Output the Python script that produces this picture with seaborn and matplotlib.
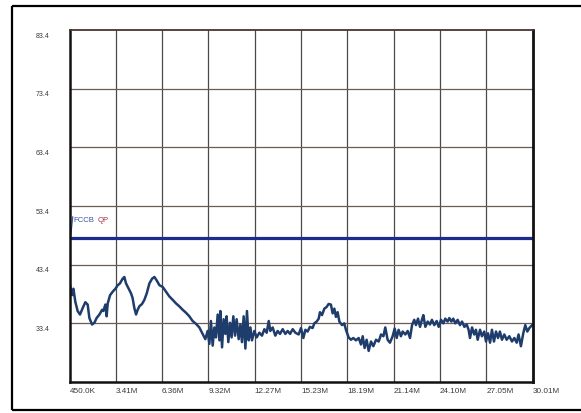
import numpy as np
import pandas as pd
import matplotlib
matplotlib.use("Agg")
import matplotlib.pyplot as plt
import matplotlib.transforms as mtransforms
from matplotlib.lines import Line2D
import seaborn as sns

# Conducted emission scan, frequency in MHz, level in dBuV
freq_mhz = [
    0.48, 0.61, 0.70, 0.82, 0.97, 1.12, 1.29, 1.46, 1.61, 1.72,
    1.89, 2.04, 2.18, 2.36, 2.53, 2.61, 2.74, 2.82, 2.89, 3.04,
    3.21, 3.38, 3.53, 3.67, 3.84, 3.95, 4.06, 4.23, 4.38, 4.48,
    4.59, 4.70, 4.80, 4.91, 5.08, 5.23, 5.38, 5.55, 5.72, 5.87,
    6.02, 6.19, 6.40, 6.61, 6.82, 7.04, 7.25, 7.46, 7.68, 7.89,
    8.10, 8.31, 8.53, 8.74, 8.95, 9.12, 9.27, 9.38, 9.48, 9.59,
    9.70, 9.80, 9.91, 10.02, 10.08, 10.19, 10.29, 10.40, 10.48, 10.59,
    10.70, 10.80, 10.91, 11.02, 11.12, 11.25, 11.36, 11.46, 11.57, 11.68,
    11.78, 11.89, 12.00, 12.10, 12.25, 12.40, 12.57, 12.74, 12.89, 13.04,
    13.17, 13.27, 13.42, 13.59, 13.74, 13.89, 14.06, 14.23, 14.38, 14.53,
    14.70, 14.87,
    15.08, 15.23, 15.38, 15.51, 15.65, 15.80, 15.97, 16.08, 16.23, 16.36,
    16.44, 16.57, 16.72, 16.87, 16.99, 17.14, 17.25, 17.36, 17.46, 17.57,
    17.68, 17.85, 17.99, 18.10, 18.27, 18.42, 18.57, 18.74, 18.91, 19.06,
    19.17, 19.29, 19.42, 19.55, 19.70, 19.85, 20.02, 20.19, 20.34, 20.49,
    20.61, 20.76, 20.91, 21.08, 21.21, 21.34, 21.46, 21.61, 21.72, 21.89,
    22.04, 22.19, 22.32, 22.46, 22.57, 22.70, 22.83, 22.95, 23.04, 23.17,
    23.32, 23.46, 23.59, 23.74, 23.89, 24.02, 24.17, 24.32, 24.44, 24.59,
    24.70, 24.83, 24.95, 25.08, 25.23, 25.38, 25.51, 25.66, 25.81, 25.93,
    26.02, 26.15, 26.29, 26.40, 26.51, 26.66, 26.78, 26.93, 27.04, 27.17,
    27.30, 27.42, 27.55, 27.68, 27.81, 27.93, 28.06, 28.21, 28.36, 28.53,
    28.70, 28.85, 29.00, 29.12, 29.27, 29.42, 29.55, 29.68, 29.81, 29.98,
]

level_dbuv = [
    39.9, 38.2, 39.3, 37.1, 35.5, 34.9, 36.0, 37.0, 36.6, 34.3,
    33.2, 33.5, 34.3, 34.9, 35.7, 35.5, 36.6, 34.6, 36.8, 38.2,
    38.8, 39.3, 39.9, 40.2, 41.0, 41.3, 40.2, 39.3, 38.5, 37.7,
    36.0, 34.9, 35.7, 36.3, 36.7, 37.4, 38.5, 40.2, 41.0, 41.3,
    40.7, 39.9, 39.6, 38.8, 38.0, 37.4, 36.8, 36.3, 35.7, 35.2,
    34.6, 33.8, 33.3, 32.7, 31.6, 30.7, 32.1, 29.9, 33.8, 29.6,
    32.7, 31.0, 34.9, 30.5, 35.5, 29.3, 34.1, 31.6, 34.6, 30.2,
    33.5, 31.0, 34.6, 31.3, 34.1, 30.7, 33.2, 30.2, 34.6, 29.1,
    35.5, 30.5, 32.7, 30.5, 32.1, 31.0, 31.8, 31.3, 32.4, 31.8,
    33.8, 32.1, 32.7, 31.3, 32.1, 31.6, 32.4, 31.6, 32.1, 31.6,
    32.4, 31.8,
    31.5, 32.6, 30.9, 32.3, 32.0, 32.8, 32.6, 33.4, 33.7, 34.2,
    35.3, 34.8, 35.9, 36.2, 36.7, 36.6, 35.1, 35.9, 34.5, 35.3,
    33.7, 33.1, 33.4, 32.3, 31.0, 30.6, 30.9, 30.5, 30.9, 29.8,
    31.2, 29.2, 30.6, 28.7, 30.3, 29.5, 30.6, 30.3, 31.5, 31.2,
    32.7, 30.6, 30.1, 31.2, 32.5, 30.9, 32.3, 31.2, 32.0, 31.5,
    32.1, 30.9, 33.1, 34.0, 33.1, 34.2, 32.8, 34.0, 34.8, 32.8,
    33.7, 33.2, 34.0, 33.1, 33.8, 32.8, 34.0, 33.4, 34.2, 33.7,
    34.3, 33.7, 34.2, 33.4, 34.0, 33.1, 33.7, 32.8, 33.2, 32.3,
    30.9, 32.7, 31.5, 32.3, 30.6, 32.3, 31.2, 32.0, 30.3, 31.7,
    30.1, 32.3, 30.3, 32.0, 30.9, 32.0, 30.6, 31.5, 30.6, 31.2,
    30.3, 30.9, 30.1, 31.5, 29.5, 31.7, 33.1, 32.0, 32.6, 33.1,
]

# FCC Class B quasi-peak limit
limit_name = "FCCB"
limit_detector = "QP"
limit_dbuv = 48.0

x_tick_labels = ["450.0K", "3.41M", "6.36M", "9.32M", "12.27M", "15.23M",
                 "18.19M", "21.14M", "24.10M", "27.05M", "30.01M"]
y_tick_labels = ["33.4", "43.4", "53.4", "63.4", "73.4", "83.4"]
f_start, f_stop = 0.45, 30.01
y_min, y_max = 23.4, 83.4

df = pd.DataFrame({"freq": freq_mhz, "level": level_dbuv})

sns.set_style("white")
plt.rcParams["font.family"] = ["Liberation Sans", "DejaVu Sans"]

fig = plt.figure(figsize=(5.81, 4.13), dpi=100)
fig.patch.set_edgecolor("none")
fig.patch.set_linewidth(0)
ax = fig.add_axes([69.5 / 581, 1 - 382 / 413, 463 / 581, 352 / 413])

# outer frame of the printout (left, top and bottom edges)
fx0, fy0, fy1 = 12 / 581, 1 - 410 / 413, 1 - 6 / 413
for xs, ys in [([fx0, fx0], [fy0, fy1]), ([fx0, 1.05], [fy1, fy1]),
               ([fx0, 1.05], [fy0, fy0])]:
    fig.add_artist(Line2D(xs, ys, transform=fig.transFigure,
                          color="black", lw=1.6, solid_capstyle="butt"))

ax.set_xlim(f_start, f_stop)
ax.set_ylim(y_min, y_max)

# grid
x_ticks = np.linspace(f_start, f_stop, len(x_tick_labels))
y_ticks = [float(s) for s in y_tick_labels]
for xv in x_ticks[1:-1]:
    ax.axvline(xv, color="#4a4a4a", lw=0.9, zorder=1)
for yv in y_ticks[:-1]:
    ax.axhline(yv, color="#6e5a55", lw=0.9, zorder=1)

# measured trace
sns.lineplot(data=df, x="freq", y="level", ax=ax, color="#1f3d6c",
             lw=1.8, zorder=3, legend=False)

# limit line and its label
ax.axhline(limit_dbuv, color="#1c2c8e", lw=2.3, zorder=2)
t1 = ax.text(0.72, 51.0, limit_name, fontsize=5.6, color="#3a55a0",
             va="center", ha="left")
ax.annotate(limit_detector, xy=(1, 0.5), xycoords=t1, xytext=(2, 0),
            textcoords="offset points", fontsize=5.6, color="#b03040",
            va="center", ha="left")
ax.annotate("", xy=(0.52, limit_dbuv), xytext=(0.66, 51.6),
            arrowprops=dict(arrowstyle="-", color="#3a55a0", lw=0.8,
                            shrinkA=0, shrinkB=0))

# axis tick labels
ax.set_xticks(x_ticks)
ax.set_xticklabels(x_tick_labels, ha="left", fontsize=5.9, color="#3a3a3a")
ax.tick_params(axis="x", length=0, pad=4)
ax.set_yticks([])
ylab_tr = mtransforms.blended_transform_factory(fig.transFigure, ax.transData) \
    + mtransforms.ScaledTranslation(0, -0.06, fig.dpi_scale_trans)
for lab, yv in zip(y_tick_labels, y_ticks):
    ax.text(36 / 581, yv, lab, transform=ylab_tr, fontsize=5.0,
            color="#3a3a3a", ha="left", va="center")

ax.set_xlabel("")
ax.set_ylabel("")

for side, col, lw in [("left", "#111111", 1.8), ("bottom", "#111111", 1.8),
                      ("right", "#111111", 2.0), ("top", "#4a3530", 1.3)]:
    ax.spines[side].set_visible(True)
    ax.spines[side].set_color(col)
    ax.spines[side].set_linewidth(lw)
    ax.spines[side].set_zorder(4)

fig.savefig("out.png", dpi=100)
